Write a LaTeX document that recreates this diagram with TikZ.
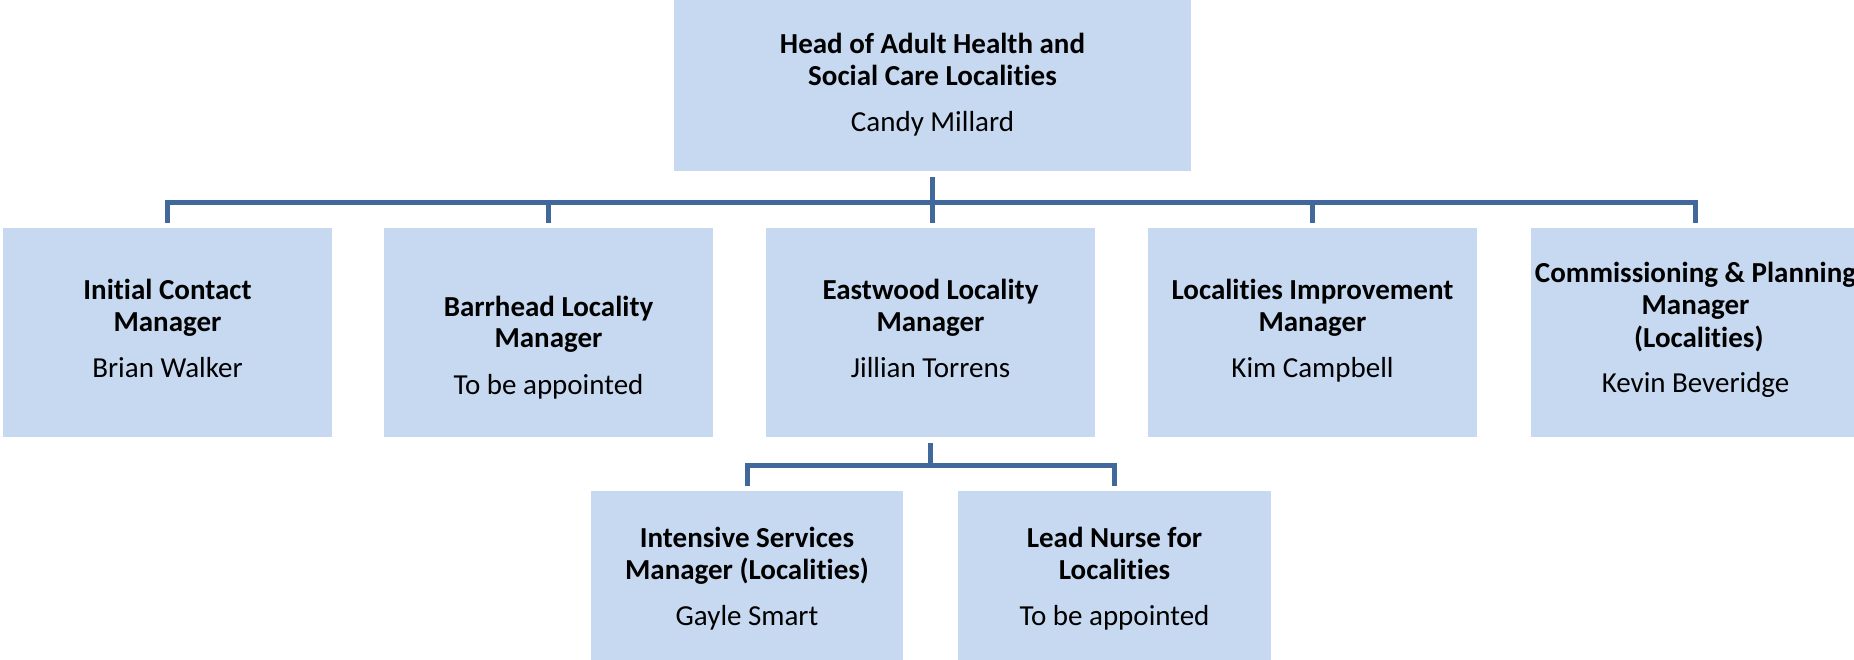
\documentclass[tikz,border=0pt]{standalone}
\usepackage{fontspec}
\setmainfont{Carlito}[Ligatures=NoCommon]
\definecolor{boxfill}{HTML}{C6D9F1}
\definecolor{linec}{HTML}{41689A}
\tikzset{
  orgbox/.style n args={2}{rectangle, fill=boxfill, draw=none, inner sep=0pt,
    minimum width=#1pt, minimum height=#2pt},
  txt/.style={anchor=base, inner sep=0pt, font=\fontsize{29}{32}\selectfont},
  conn/.style={draw=linec, line width=5pt, line join=miter, line cap=butt}
}
\newcommand{\orgtxt}[3]{\begin{tabular}[t]{@{}c@{}}#1\\[14pt]#3\end{tabular}}
\begin{document}
\begin{tikzpicture}[x=1pt,y=-1pt]
\useasboundingbox (0,0) rectangle (1854,660);
% boxes
\node[orgbox={517}{171}] (top) at (932.5,85.5) {};
\node[orgbox={329}{209}] (b1) at (167.5,332.5) {};
\node[orgbox={329}{209}] (b2) at (548.5,332.5) {};
\node[orgbox={329}{209}] (b3) at (930.5,332.5) {};
\node[orgbox={329}{209}] (b4) at (1312.5,332.5) {};
\node[orgbox={329}{209}] (b5) at (1695.5,332.5) {};
\node[orgbox={312}{178}] (c1) at (747,580) {};
\node[orgbox={313}{178}] (c2) at (1114.5,580) {};
% texts
\node[txt] at (932.5,54) {\orgtxt{\textbf{Head of Adult Health and}\\\textbf{Social Care Localities}}{}{Candy Millard}};
\node[txt] at (167.5,299) {\orgtxt{\textbf{Initial Contact}\\\textbf{Manager}}{}{Brian Walker}};
\node[txt] at (548.5,316) {\orgtxt{\textbf{Barrhead Locality}\\\textbf{Manager}}{}{To be appointed}};
\node[txt] at (930.5,299) {\orgtxt{\textbf{Eastwood Locality}\\\textbf{Manager}}{}{Jillian Torrens}};
\node[txt] at (1312.5,299) {\orgtxt{\textbf{Localities Improvement}\\\textbf{Manager}}{}{Kim Campbell}};
\node[txt] at (1695.5,283) {\orgtxt{\textbf{Commissioning \& Planning}\\\textbf{Manager}\\\textbf{\ (Localities)}}{}{Kevin Beveridge}};
\node[txt] at (747,547) {\orgtxt{\textbf{Intensive Services}\\\textbf{Manager (Localities)}}{}{Gayle Smart}};
\node[txt] at (1114.5,547) {\orgtxt{\textbf{Lead Nurse for}\\\textbf{Localities}}{}{To be appointed}};
% connectors
\coordinate (bar) at (0,203);
\coordinate (bar2) at (0,465);
\coordinate (topb) at ([yshift=-6pt]top.south);
\coordinate (b3t) at ([yshift=5pt]b3.north);
\coordinate (b1t) at ([yshift=5pt]b1.north);
\coordinate (b2t) at ([yshift=5pt]b2.north);
\coordinate (b4t) at ([yshift=5pt]b4.north);
\coordinate (b5t) at ([yshift=5pt]b5.north);
\coordinate (b3b) at ([yshift=-6pt]b3.south);
\coordinate (c1t) at ([yshift=5pt]c1.north);
\coordinate (c2t) at ([yshift=5pt]c2.north);
\draw[conn] (topb) -- (topb |- b3t);
\draw[conn] (b1t) -- (b1t |- bar) -- (b5t |- bar) -- (b5t);
\draw[conn] (b2t |- bar) -- (b2t);
\draw[conn] (b4t |- bar) -- (b4t);
\draw[conn] (b3b) -- (b3b |- bar2);
\draw[conn] (c1t) -- (c1t |- bar2) -- (c2t |- bar2) -- (c2t);
\end{tikzpicture}
\end{document}
